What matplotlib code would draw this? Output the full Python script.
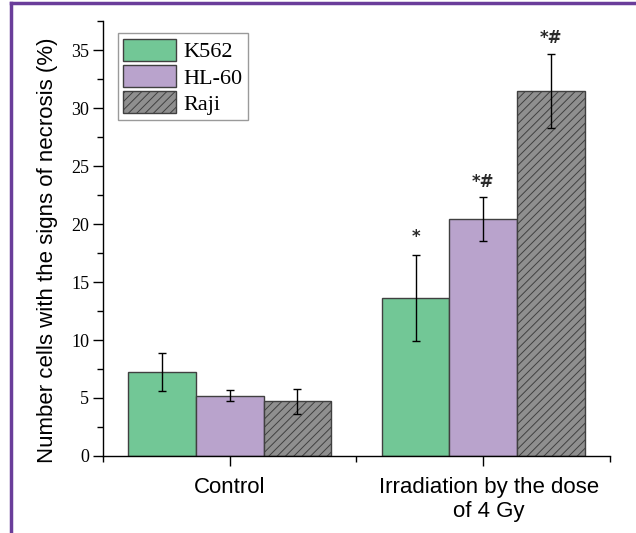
import matplotlib
matplotlib.use("Agg")
import matplotlib.pyplot as plt
import numpy as np
from matplotlib.lines import Line2D
from matplotlib.ticker import MultipleLocator, FixedLocator
import matplotlib.transforms as mtransforms

groups = ["Control", "Irradiation by the dose\nof 4 Gy"]
series = ["K562", "HL-60", "Raji"]
k562 = [7.25, 13.6]
hl60 = [5.2, 20.45]
raji = [4.7, 31.5]
k562_err = [1.65, 3.7]
hl60_err = [0.5, 1.9]
raji_err = [1.1, 3.2]
marks = [["", "", ""], ["*", "*#", "*#"]]
mark_y = [[0, 0, 0], [18.45, 23.2, 35.6]]

values = [k562, hl60, raji]
errors = [k562_err, hl60_err, raji_err]
colors = ["#72c796", "#b9a3cc", "#8f8f8f"]
hatches = [None, None, "////"]

plt.rcParams["hatch.color"] = "#3a3a3a"
plt.rcParams["hatch.linewidth"] = 0.7

fig = plt.figure(figsize=(6.36, 5.33), dpi=100)
ax = fig.add_axes([0.162, 0.1445, 0.797, 0.816])

x = np.arange(len(groups))
w = 0.8 / 3
for i, s in enumerate(series):
    pos = x + (i - 1) * w
    ax.bar(pos, values[i], width=w, color=colors[i], edgecolor="#404040",
           linewidth=1.0, hatch=hatches[i], label=s, zorder=2)
    ax.errorbar(pos, values[i], yerr=errors[i], fmt="none", ecolor="black",
                elinewidth=1.0, capsize=3, capthick=1.0, zorder=3)
    for g in range(len(groups)):
        if marks[g][i]:
            ax.text(pos[g], mark_y[g][i], marks[g][i], ha="center", va="baseline",
                    fontsize=12, fontweight="bold", fontfamily="DejaVu Sans", color="#2a2a2a")

ax.set_xlim(-0.5, 1.5)
ax.set_ylim(0, 37.5)
ax.yaxis.set_major_locator(MultipleLocator(5))
ax.yaxis.set_minor_locator(MultipleLocator(2.5))
ax.xaxis.set_major_locator(FixedLocator(x))
ax.xaxis.set_minor_locator(FixedLocator([-0.5, 0.5, 1.5]))
ax.set_xticklabels(groups, fontfamily="Liberation Sans", fontsize=16)
for lab in ax.get_yticklabels():
    lab.set_fontfamily("Liberation Serif")
    lab.set_fontsize(13)
ax.tick_params(axis="both", which="major", direction="out", length=7, width=1.0, color="black")
ax.tick_params(axis="both", which="minor", direction="out", length=4, width=1.0, color="black")
ax.tick_params(axis="x", which="major", pad=8)
ax.tick_params(axis="y", which="major", pad=3)

offset = mtransforms.ScaledTranslation(6 / 100, 0, fig.dpi_scale_trans)
labs = ax.get_xticklabels()
labs[1].set_transform(labs[1].get_transform() + offset)

for sp in ["top", "right"]:
    ax.spines[sp].set_visible(False)
for sp in ["left", "bottom"]:
    ax.spines[sp].set_linewidth(1.0)

ax.set_ylabel("Number cells with the signs of necrosis (%)", fontfamily="Liberation Sans",
              fontsize=16)
ax.yaxis.set_label_coords(-0.089, 0.474)

leg = ax.legend(loc="upper left", bbox_to_anchor=(0.029, 0.972), prop={"family": "Liberation Serif", "size": 16},
                handlelength=2.35, handleheight=1.15, labelspacing=0.12, borderpad=0.25,
                handletextpad=0.35, fancybox=False, framealpha=1, edgecolor="#9a9a9a",
                borderaxespad=0)
leg.get_frame().set_linewidth(1.0)

# purple frame on left and top
fig.add_artist(Line2D([11 / 636, 11 / 636], [0, 1 - 3 / 533], transform=fig.transFigure,
                      color="#6a3d9a", linewidth=2.5))
fig.add_artist(Line2D([11 / 636, 1], [1 - 3 / 533, 1 - 3 / 533], transform=fig.transFigure,
                      color="#6a3d9a", linewidth=2.5))

fig.savefig("out.png", dpi=100)
